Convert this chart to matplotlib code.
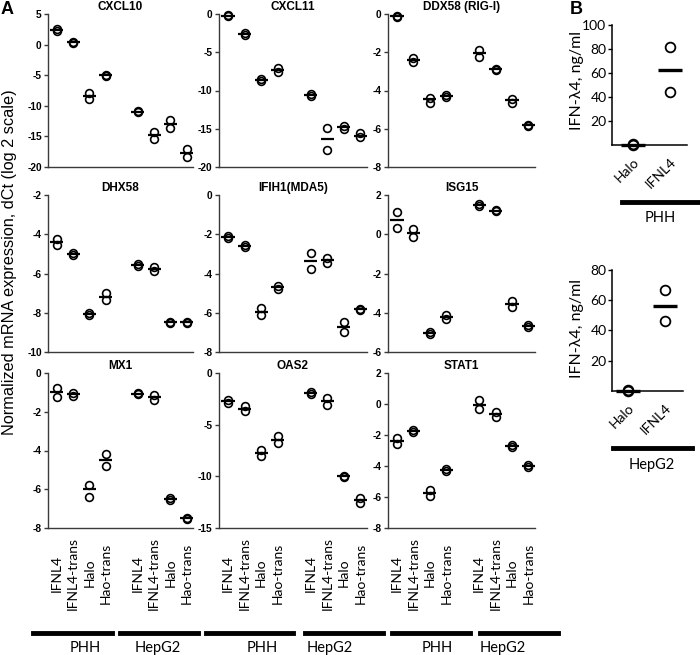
import matplotlib
matplotlib.use("Agg")
import matplotlib.pyplot as plt
from matplotlib.lines import Line2D
import numpy as np

# ---------------- data ----------------
conditions = ["IFNL4", "IFNL4-trans", "Halo", "Hao-trans"]
cell_types = ["PHH", "HepG2"]
genes = ["CXCL10", "CXCL11", "DDX58 (RIG-I)",
         "DHX58", "IFIH1(MDA5)", "ISG15",
         "MX1", "OAS2", "STAT1"]

# order per gene: PHH (IFNL4, IFNL4-trans, Halo, Hao-trans), HepG2 (same)
cxcl10_rep1 = [2.5, 0.4, -7.9, -4.95, -10.9, -14.2, -12.4, -17.0]
cxcl10_rep2 = [2.3, 0.3, -8.9, -5.05, -11.05, -15.5, -13.55, -18.35]
cxcl10_mean = [2.4, 0.35, -8.4, -5.0, -11.0, -14.8, -13.0, -17.65]

cxcl11_rep1 = [-0.1, -2.5, -8.5, -7.1, -10.5, -14.95, -14.7, -15.5]
cxcl11_rep2 = [-0.25, -2.7, -8.7, -7.6, -10.7, -17.8, -15.0, -16.1]
cxcl11_mean = [-0.2, -2.6, -8.6, -7.35, -10.6, -16.4, -14.8, -15.9]

ddx58_rep1 = [-0.08, -2.29, -4.38, -4.25, -1.89, -2.85, -4.45, -5.8]
ddx58_rep2 = [-0.15, -2.50, -4.63, -4.32, -2.24, -2.92, -4.65, -5.87]
ddx58_mean = [-0.1, -2.38, -4.47, -4.28, -2.06, -2.88, -4.5, -5.83]

dhx58_rep1 = [-4.26, -4.98, -8.03, -7.0, -5.52, -5.66, -8.45, -8.45]
dhx58_rep2 = [-4.54, -5.08, -8.12, -7.36, -5.62, -5.89, -8.53, -8.53]
dhx58_mean = [-4.39, -5.03, -8.07, -7.18, -5.57, -5.75, -8.49, -8.49]

ifih1_rep1 = [-2.1, -2.57, -5.77, -4.62, -2.94, -3.22, -6.46, -5.8]
ifih1_rep2 = [-2.2, -2.67, -6.12, -4.79, -3.75, -3.46, -6.97, -5.86]
ifih1_mean = [-2.15, -2.62, -5.95, -4.69, -3.34, -3.30, -6.72, -5.83]

isg15_rep1 = [1.15, 0.26, -4.98, -4.12, 1.53, 1.17, -3.38, -4.64]
isg15_rep2 = [0.34, -0.14, -5.08, -4.32, 1.45, 1.23, -3.72, -4.72]
isg15_mean = [0.74, 0.05, -5.03, -4.2, 1.49, 1.2, -3.57, -4.68]

mx1_rep1 = [-0.77, -1.03, -5.78, -4.2, -1.02, -1.15, -6.47, -7.46]
mx1_rep2 = [-1.24, -1.2, -6.38, -4.8, -1.1, -1.41, -6.57, -7.54]
mx1_mean = [-1.0, -1.1, -6.0, -4.5, -1.06, -1.24, -6.52, -7.5]

oas2_rep1 = [-2.6, -3.16, -7.42, -6.13, -1.88, -2.42, -9.92, -12.1]
oas2_rep2 = [-2.9, -3.71, -8.06, -6.77, -2.0, -3.06, -10.08, -12.6]
oas2_mean = [-2.74, -3.45, -7.74, -6.45, -1.94, -2.74, -10.0, -12.26]

stat1_rep1 = [-2.22, -1.7, -5.52, -4.2, 0.26, -0.5, -2.67, -3.95]
stat1_rep2 = [-2.59, -1.8, -5.95, -4.34, -0.34, -0.86, -2.77, -4.05]
stat1_mean = [-2.37, -1.75, -5.73, -4.27, -0.06, -0.67, -2.72, -4.0]

gene_rep1 = [cxcl10_rep1, cxcl11_rep1, ddx58_rep1, dhx58_rep1, ifih1_rep1,
             isg15_rep1, mx1_rep1, oas2_rep1, stat1_rep1]
gene_rep2 = [cxcl10_rep2, cxcl11_rep2, ddx58_rep2, dhx58_rep2, ifih1_rep2,
             isg15_rep2, mx1_rep2, oas2_rep2, stat1_rep2]
gene_mean = [cxcl10_mean, cxcl11_mean, ddx58_mean, dhx58_mean, ifih1_mean,
             isg15_mean, mx1_mean, oas2_mean, stat1_mean]

# y-axis ranges (min, max, step)
gene_ylims = [(-20, 5, 5), (-20, 0, 5), (-8, 0, 2),
              (-10, -2, 2), (-8, 0, 2), (-6, 2, 2),
              (-8, 0, 2), (-15, 0, 5), (-8, 2, 2)]

# Panel B: IFN-lambda4 secreted (ng/ml)
b_labels = ["Halo", "IFNL4"]
b_phh_rep1 = [0.5, 81.5]
b_phh_rep2 = [0.3, 44.0]
b_phh_mean = [0.4, 62.8]
b_hepg2_rep1 = [0.4, 66.9]
b_hepg2_rep2 = [0.2, 46.2]
b_hepg2_mean = [0.3, 56.5]

# ---------------- layout ----------------
W, H = 700, 655
fig = plt.figure(figsize=(7, 6.55), dpi=100)

def px_axes(l, t, r, b):
    return fig.add_axes([l / W, 1 - b / H, (r - l) / W, (b - t) / H])

def fx(x):
    return x / W

def fy(y):
    return 1 - y / H

LAB_FONT = ["Lato", "DejaVu Sans"]
ARIAL = ["Liberation Sans", "DejaVu Sans"]

cols = [(48, 193), (219, 367), (388, 535)]
rows = [(14, 167), (195, 352), (373, 528)]
positions = np.array([0, 1, 2, 3, 5, 6, 7, 8])
spine_col = "#3a3a3a"

axes_A = []
for gi, name in enumerate(genes):
    r, c = divmod(gi, 3)
    l, rr = cols[c]
    t, b = rows[r]
    ax = px_axes(l, t, rr, b)
    axes_A.append(ax)
    ymin, ymax, step = gene_ylims[gi]
    ax.set_ylim(ymin, ymax)
    ax.set_xlim(-0.55, 8.4)
    ax.set_yticks(np.arange(ymin, ymax + 0.001, step))
    ax.set_yticklabels([f"{int(v)}" for v in np.arange(ymin, ymax + 0.001, step)],
                       fontsize=7.3, fontweight="bold", family=ARIAL)
    ax.set_xticks([])
    for s in ["top", "right"]:
        ax.spines[s].set_visible(False)
    for s in ["left", "bottom"]:
        ax.spines[s].set_color(spine_col)
        ax.spines[s].set_linewidth(1.0)
    ax.tick_params(axis="y", direction="out", length=3, width=1.0,
                   color=spine_col, pad=1.5)
    ax.patch.set_alpha(0)

    ax.plot(positions, gene_rep1[gi], "o", mfc="none", mec="black",
            ms=5.6, mew=1.2, clip_on=False, zorder=3)
    ax.plot(positions, gene_rep2[gi], "o", mfc="none", mec="black",
            ms=5.6, mew=1.2, clip_on=False, zorder=3)
    ax.hlines(gene_mean[gi], positions - 0.4, positions + 0.4,
              color="black", lw=1.6, zorder=4)

    ax.text(0.5, 1 + 7 / (b - t), name, transform=ax.transAxes,
            ha="center", va="center", fontsize=8.5, fontweight="bold",
            family=ARIAL)

    if r == 2:
        yax = (b - 573) / (b - t)
        for p, lab in zip(positions, conditions * 2):
            ax.text(p, yax, lab, rotation=90, ha="center", va="center",
                    transform=ax.get_xaxis_transform(), fontsize=10,
                    family=LAB_FONT)

# group bars under panel A
bar_spans = [((33, 112), (120, 198)), ((206, 293), (305, 383)),
             ((392, 470), (480, 558))]
bar_text_x = [(85, 158), (262, 330), (437, 503)]
for spans, txs in zip(bar_spans, bar_text_x):
    for (a, bb), tx, lab in zip(spans, txs, cell_types):
        fig.add_artist(Line2D([fx(a), fx(bb)], [fy(633), fy(633)],
                              lw=3.5, color="black",
                              transform=fig.transFigure))
        fig.text(fx(tx), fy(648), lab, ha="center", va="center",
                 fontsize=10.5, family=LAB_FONT)

fig.text(fx(10), fy(262), "Normalized mRNA expression, dCt (log 2 scale)",
         rotation=90, ha="center", va="center", fontsize=11.7, family=ARIAL)

# ---------------- panel B ----------------
b_specs = [
    ((612, 25, 687, 145), (0, 100), (-0.57, 1.46),
     b_phh_rep1, b_phh_rep2, b_phh_mean, 80, (622, 698, 202), (660, 218), "PHH"),
    ((612, 270, 683, 391), (0, 80), (-0.43, 1.49),
     b_hepg2_rep1, b_hepg2_rep2, b_hepg2_mean, 328, (613, 692, 448), (652, 465), "HepG2"),
]
bx = np.array([0, 1])
for (box, ylim, xlim, r1, r2, mn, ylab_y, bar, txt, lab) in b_specs:
    ax = px_axes(*box)
    ax.set_ylim(*ylim)
    ax.set_xlim(*xlim)
    ticks = np.arange(20, ylim[1] + 1, 20)
    ax.set_yticks(ticks)
    ax.set_yticklabels([str(int(v)) for v in ticks], fontsize=10,
                       family=LAB_FONT)
    ax.set_xticks(bx)
    ax.set_xticklabels(b_labels, rotation=45, ha="right",
                       rotation_mode="anchor", fontsize=10, family=LAB_FONT)
    ax.tick_params(axis="x", length=0, pad=8)
    ax.tick_params(axis="y", direction="out", length=3, width=1.0, pad=1)
    for s in ["top", "right"]:
        ax.spines[s].set_visible(False)
    for s in ["left", "bottom"]:
        ax.spines[s].set_linewidth(1.1)
    ax.patch.set_alpha(0)
    ax.plot(bx, r1, "o", mfc="none", mec="black", ms=7, mew=1.3,
            clip_on=False, zorder=3)
    ax.plot(bx, r2, "o", mfc="none", mec="black", ms=7, mew=1.3,
            clip_on=False, zorder=3)
    ax.hlines(mn, bx - 0.32, bx + 0.32, color="black", lw=2.4, zorder=4,
              clip_on=False)
    fig.text(fx(577), fy(ylab_y), "IFN-λ4, ng/ml", rotation=90,
             ha="center", va="center", fontsize=11.5, family=LAB_FONT)
    fig.add_artist(Line2D([fx(bar[0]), fx(bar[1])], [fy(bar[2]), fy(bar[2])],
                          lw=3.5, color="black", transform=fig.transFigure))
    fig.text(fx(txt[0]), fy(txt[1]), lab, ha="center", va="center",
             fontsize=10.5, family=LAB_FONT)

fig.text(fx(1), fy(10), "A", fontsize=13, fontweight="bold", family=ARIAL,
         ha="left", va="center")
fig.text(fx(570), fy(10), "B", fontsize=13, fontweight="bold", family=ARIAL,
         ha="left", va="center")

fig.savefig("out.png", dpi=100)
